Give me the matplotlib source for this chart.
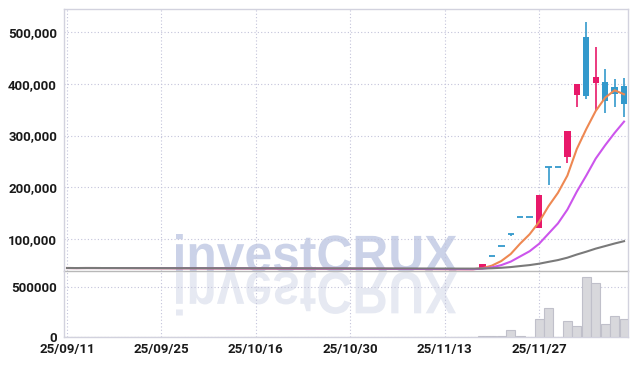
import matplotlib
matplotlib.use('Agg')
import matplotlib.pyplot as plt
import numpy as np
import pandas as pd
from matplotlib.textpath import TextPath
from matplotlib.patches import PathPatch
from matplotlib.font_manager import FontProperties
from matplotlib.transforms import Affine2D, IdentityTransform
from matplotlib.ticker import FuncFormatter

# ---------------- data ----------------
dates = [
    "2025-09-11", "2025-09-12", "2025-09-15", "2025-09-16", "2025-09-17", "2025-09-18", "2025-09-19",
    "2025-09-22", "2025-09-23", "2025-09-24", "2025-09-25", "2025-09-26", "2025-09-29", "2025-09-30",
    "2025-10-01", "2025-10-02", "2025-10-10", "2025-10-13", "2025-10-14", "2025-10-15", "2025-10-16",
    "2025-10-17", "2025-10-20", "2025-10-21", "2025-10-22", "2025-10-23", "2025-10-24", "2025-10-27",
    "2025-10-28", "2025-10-29", "2025-10-30", "2025-10-31", "2025-11-03", "2025-11-04", "2025-11-05",
    "2025-11-06", "2025-11-07", "2025-11-10", "2025-11-11", "2025-11-12", "2025-11-13", "2025-11-14",
    "2025-11-17", "2025-11-18", "2025-11-19", "2025-11-20", "2025-11-21", "2025-11-24", "2025-11-25",
    "2025-11-26", "2025-11-27", "2025-11-28", "2025-12-01", "2025-12-02", "2025-12-03", "2025-12-04",
    "2025-12-05", "2025-12-08", "2025-12-09", "2025-12-10",
]

opens = [
    43100, 43200, 43000, 43350, 43100, 42900, 43050, 42800, 42950, 42700,
    42850, 42600, 42750, 42500, 42650, 42400, 42550, 42300, 42450, 42200,
    42350, 42100, 42250, 42000, 41900, 42050, 41800, 41950, 41700, 41600,
    41750, 41500, 41400, 41550, 41300, 41200, 41350, 41100, 41000, 40900,
    41050, 40800, 40700, 40600,
    40700, 66000, 85500, 108800, 141500, 141500, 121300, 238400, 238400, 257800,
    378500, 490900, 402300, 403700, 393400, 395900,
]
highs = [
    43500, 43400, 43500, 43500, 43300, 43200, 43200, 43100, 43100, 43000,
    43000, 42900, 42900, 42800, 42800, 42700, 42700, 42600, 42600, 42500,
    42500, 42400, 42400, 42200, 42200, 42200, 42100, 42100, 41900, 41900,
    41900, 41700, 41700, 41700, 41500, 41500, 41500, 41300, 41200, 41200,
    41200, 41000, 40900, 40900,
    51000, 66000, 85500, 108800, 141500, 141500, 184700, 238400, 238400, 308700,
    399800, 520500, 470900, 428900, 408900, 410900,
]
lows = [
    42900, 42800, 42800, 42900, 42700, 42600, 42700, 42500, 42600, 42400,
    42500, 42300, 42400, 42200, 42300, 42100, 42200, 42000, 42100, 41900,
    42000, 41800, 41900, 41700, 41600, 41700, 41500, 41600, 41400, 41300,
    41400, 41200, 41100, 41200, 41000, 40900, 41000, 40800, 40700, 40600,
    40700, 40500, 40400, 40400,
    40500, 66000, 85500, 104500, 141500, 141500, 121300, 204000, 238400, 246000,
    354700, 370700, 349400, 344200, 355800, 336400,
]
closes = [
    43200, 43000, 43350, 43100, 42900, 43050, 42800, 42950, 42700, 42850,
    42600, 42750, 42500, 42650, 42400, 42550, 42300, 42450, 42200, 42350,
    42100, 42250, 42000, 41900, 42050, 41800, 41950, 41700, 41600, 41750,
    41500, 41400, 41550, 41300, 41200, 41350, 41100, 41000, 40900, 41050,
    40800, 40700, 40600, 40700,
    51000, 66000, 85500, 108800, 141500, 141500, 184700, 238400, 238400, 308700,
    399800, 377100, 414000, 366900, 380400, 361000,
]
volumes = [
    3000, 2500, 2800, 2000, 2200, 1800, 2100, 1900, 2400, 1700,
    2000, 1600, 1800, 1500, 1900, 1400, 2200, 1700, 1500, 1600,
    1800, 1400, 1500, 1300, 1600, 1200, 1400, 1300, 1500, 1100,
    1300, 1200, 1400, 1100, 1000, 1200, 1100, 1000, 1300, 1200,
    1500, 1400, 1600, 2000,
    13000, 10000, 10000, 69000, 10000, 0, 178000, 287000, 0, 158000,
    109000, 593000, 534000, 128000, 207000, 181000,
]

ma_windows = [5, 10, 60]
tick_positions = [0, 10, 20, 30, 40, 50]

# ---------------- styling ----------------
UP = '#e8196a'
DOWN = '#3399cc'
MA_COLORS = ['#ee8852', '#cc55ec', '#7a7a7a']
MA_Z = [5, 5.5, 6]
GRID = '#c3c3da'
SPINE = '#d2d2de'
TXT = '#1a1a1a'
FONT = ['Roboto', 'DejaVu Sans']

plt.rcParams['font.family'] = FONT
plt.rcParams['font.weight'] = 'bold'

W, H = 637, 366
fig = plt.figure(figsize=(W / 100, H / 100), dpi=100, facecolor='white')

L, R = 64 / W, 628 / W
ax = fig.add_axes([L, 1 - 271 / H, R - L, (271 - 9) / H])
axv = fig.add_axes([L, 1 - 337 / H, R - L, (337 - 271) / H], sharex=ax)
for a in (ax, axv):
    a.set_facecolor('none')

x = np.arange(len(closes))
o = np.array(opens, float)
h = np.array(highs, float)
lo = np.array(lows, float)
c = np.array(closes, float)
up = c > o
colors = np.where(up, UP, DOWN)

# wicks
ax.vlines(x, lo, h, colors=colors, linewidth=1.2, zorder=3)
# bodies
bw = 0.68
body_bottom = np.minimum(o, c)
body_h = np.abs(c - o)
has_body = body_h > 0
ax.bar(x[has_body], body_h[has_body], width=bw, bottom=body_bottom[has_body],
       color=colors[has_body], linewidth=0, zorder=4)
ax.hlines(c[~has_body], x[~has_body] - bw / 2, x[~has_body] + bw / 2,
          colors=colors[~has_body], linewidth=1.3, zorder=4)

# moving averages
cs = pd.Series(c)
for win, col, z in zip(ma_windows, MA_COLORS, MA_Z):
    ma = cs.rolling(win, min_periods=1).mean()
    ax.plot(x, ma, color=col, linewidth=1.5, zorder=z)

# volume
axv.bar(x, volumes, width=0.95, color='#d8d8dc', edgecolor='#c0c0ca',
        linewidth=0.8, zorder=3)

# axes ranges
ax.set_xlim(-0.32, 59.42)
ax.set_ylim(37400, 545200)
axv.set_ylim(0, 655000)

# ticks
ax.set_yticks([100000, 200000, 300000, 400000, 500000])
ax.yaxis.set_major_formatter(FuncFormatter(lambda v, p: f"{v:,.0f}"))
axv.set_yticks([0, 500000])
axv.yaxis.set_major_formatter(FuncFormatter(lambda v, p: f"{v:.0f}"))
ax.set_xticks(tick_positions)
tick_labels = [pd.Timestamp(dates[i]).strftime('%y/%m/%d') for i in tick_positions]
axv.set_xticks(tick_positions)
axv.set_xticklabels(tick_labels)
ax.tick_params(axis='x', labelbottom=False, length=0)

for a in (ax, axv):
    a.tick_params(axis='both', length=0, colors=TXT, labelsize=9.5)
    a.tick_params(axis='y', pad=5)
    a.tick_params(axis='x', pad=4)
    a.grid(True, color=GRID, linestyle=(0, (1, 2)), linewidth=0.8, zorder=0)
    a.set_axisbelow(True)
    for s in a.spines.values():
        s.set_color(SPINE)
        s.set_linewidth(1.0)
for lab in ax.get_yticklabels() + axv.get_yticklabels() + axv.get_xticklabels():
    lab.set_fontweight('bold')

ax.spines['bottom'].set_color('#b8b8b8')
axv.spines['top'].set_visible(False)

# ---------------- watermark with reflection ----------------
fp = FontProperties(family='Liberation Sans', weight='bold')
tp = TextPath((0, 0), "investCRUX", size=50, prop=fp)
bb = tp.get_extents()
x0, x1 = 176, 457
sx = (x1 - x0) / bb.width
base_y = H - 271.5
sy = 37.5 / bb.ymax
sy_ref = 43.0 / bb.ymax
t_orig = Affine2D().translate(-bb.x0, 0).scale(sx, sy).translate(x0, base_y)
t_ref = Affine2D().translate(-bb.x0, 0).scale(sx, -sy_ref).translate(x0, H - 272.5)
fig.add_artist(PathPatch(tp, transform=t_orig + IdentityTransform(),
                         facecolor='#cbd2e8', edgecolor='none', zorder=-1))
fig.add_artist(PathPatch(tp, transform=t_ref + IdentityTransform(),
                         facecolor='#e6e9f2', edgecolor='none', zorder=-1))

fig.savefig('out.png', dpi=100, facecolor='white')
